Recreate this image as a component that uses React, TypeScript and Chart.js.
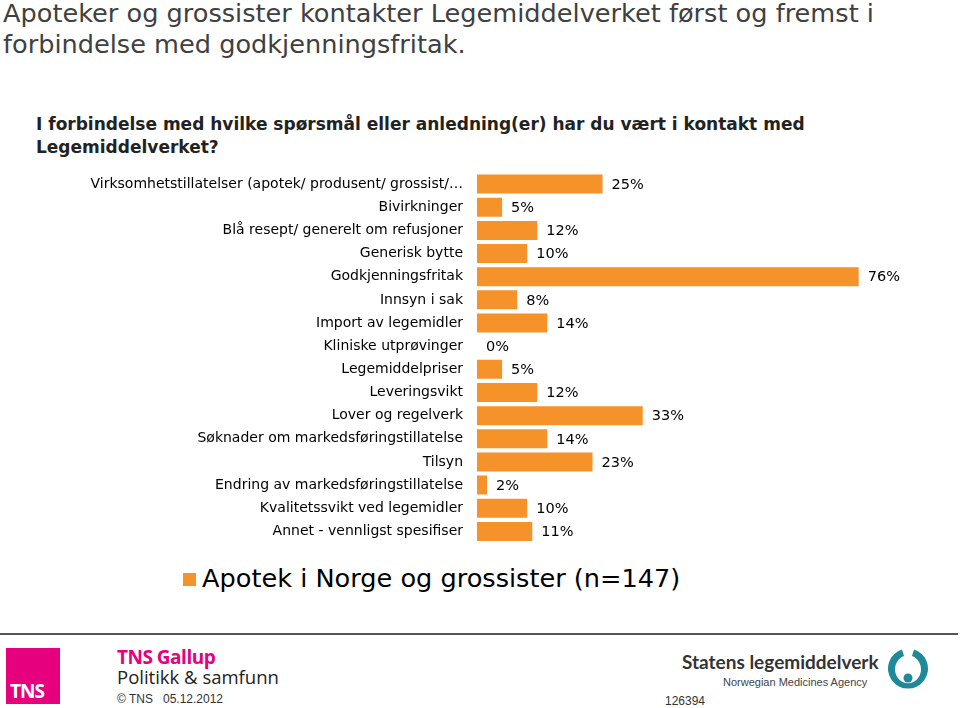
import React, { useEffect, useRef } from "react";
import { Chart, registerables } from "chart.js";

Chart.register(...registerables);

const categories = [
  "Virksomhetstillatelser (apotek/ produsent/ grossist/…",
  "Bivirkninger",
  "Blå resept/ generelt om refusjoner",
  "Generisk bytte",
  "Godkjenningsfritak",
  "Innsyn i sak",
  "Import av legemidler",
  "Kliniske utprøvinger",
  "Legemiddelpriser",
  "Leveringsvikt",
  "Lover og regelverk",
  "Søknader om markedsføringstillatelse",
  "Tilsyn",
  "Endring av markedsføringstillatelse",
  "Kvalitetssvikt ved legemidler",
  "Annet - vennligst spesifiser",
];
const seriesLabel = "Apotek i Norge og grossister (n=147)";
const values = [25, 5, 12, 10, 76, 8, 14, 0, 5, 12, 33, 14, 23, 2, 10, 11];

const ORANGE = "#F5922A";

const valueLabelPlugin = {
  id: "valueLabels",
  afterDatasetsDraw(chart: any) {
    const ctx = chart.ctx;
    const meta = chart.getDatasetMeta(0);
    ctx.save();
    ctx.font = "14.5px 'DejaVu Sans'";
    ctx.fillStyle = "#000";
    ctx.textBaseline = "middle";
    ctx.textAlign = "left";
    meta.data.forEach((bar: any, i: number) => {
      const v = chart.data.datasets[0].data[i];
      ctx.fillText(v + "%", bar.x + 9, bar.y + 1);
    });
    ctx.restore();
  },
};

function BarChart() {
  const ref = useRef<HTMLCanvasElement | null>(null);
  useEffect(() => {
    if (!ref.current) return;
    const chart = new Chart(ref.current, {
      type: "bar",
      data: {
        labels: categories,
        datasets: [
          {
            label: seriesLabel,
            data: values,
            backgroundColor: ORANGE,
            borderWidth: 0,
            barPercentage: 0.82,
            categoryPercentage: 1,
          },
        ],
      },
      options: {
        indexAxis: "y",
        animation: false,
        responsive: false,
        maintainAspectRatio: false,
        layout: { padding: { top: 7.5, bottom: 7, right: 31, left: 0 } },
        plugins: {
          legend: { display: false },
          tooltip: { enabled: false },
        },
        scales: {
          x: {
            display: false,
            min: 0,
            max: 90,
          },
          y: {
            grid: { display: false, drawTicks: false },
            border: { display: false },
            ticks: {
              font: { family: "'DejaVu Sans'", size: 14 },
              color: "#000",
              padding: 14,
              autoSkip: false,
            },
            afterFit: (s: any) => {
              s.width = 477;
              s.paddingTop = 0;
              s.paddingBottom = 0;
            },
          },
        },
      },
      plugins: [valueLabelPlugin],
    });
    return () => chart.destroy();
  }, []);
  return (
    <canvas
      ref={ref}
      width={960}
      height={385}
      style={{ position: "absolute", left: 0, top: 165, width: 960, height: 385 }}
    />
  );
}

export default function App() {
  return (
    <div
      style={{
        position: "absolute",
        left: 0,
        top: 0,
        width: 960,
        height: 708,
        background: "#fff",
        overflow: "hidden",
        fontFamily: "'DejaVu Sans', sans-serif",
      }}
    >
      <div
        style={{
          position: "absolute",
          left: 3,
          top: -2,
          fontSize: 25.6,
          lineHeight: "31px",
          color: "#404040",
          whiteSpace: "nowrap",
        }}
      >
        Apoteker og grossister kontakter Legemiddelverket først og fremst i
        <br />
        forbindelse med godkjenningsfritak.
      </div>
      <div
        style={{
          position: "absolute",
          left: 36,
          top: 113,
          fontSize: 17,
          fontWeight: "bold",
          lineHeight: "23px",
          color: "#222",
          whiteSpace: "nowrap",
        }}
      >
        I forbindelse med hvilke spørsmål eller anledning(er) har du vært i kontakt med
        <br />
        Legemiddelverket?
      </div>
      <BarChart />
      <div
        style={{
          position: "absolute",
          left: 183,
          top: 573,
          width: 13,
          height: 13,
          background: ORANGE,
        }}
      />
      <div
        style={{
          position: "absolute",
          left: 202,
          top: 562,
          fontSize: 25.6,
          lineHeight: "32px",
          color: "#000",
          whiteSpace: "nowrap",
        }}
      >
        {seriesLabel}
      </div>
      <div
        style={{
          position: "absolute",
          left: 0,
          top: 633,
          width: 958,
          height: 2,
          background: "#555",
        }}
      />
      <div
        style={{
          position: "absolute",
          left: 6,
          top: 648,
          width: 54,
          height: 56,
          background: "#E6007E",
        }}
      >
        <div
          style={{
            position: "absolute",
            left: 4,
            bottom: 0,
            color: "#fff",
            fontSize: 19,
            fontWeight: "bold",
            fontFamily: "'Open Sans', sans-serif",
            letterSpacing: -1,
          }}
        >
          TNS
        </div>
      </div>
      <div
        style={{
          position: "absolute",
          left: 117,
          top: 644,
          fontSize: 19,
          fontWeight: "bold",
          color: "#E6007E",
          whiteSpace: "nowrap",
          fontFamily: "'Open Sans', sans-serif",
          letterSpacing: -0.5,
        }}
      >
        TNS Gallup
      </div>
      <div
        style={{
          position: "absolute",
          left: 117,
          top: 664,
          fontSize: 18.5,
          color: "#222",
          whiteSpace: "nowrap",
          fontFamily: "'Open Sans', sans-serif",
        }}
      >
        Politikk &amp; samfunn
      </div>
      <div
        style={{
          position: "absolute",
          left: 117,
          top: 692,
          fontSize: 12,
          color: "#333",
          whiteSpace: "nowrap",
          fontFamily: "'Liberation Sans', Arial, sans-serif",
        }}
      >
        © TNS&nbsp;&nbsp; 05.12.2012
      </div>
      <div
        style={{
          position: "absolute",
          left: 665,
          top: 694,
          fontSize: 12,
          color: "#333",
          whiteSpace: "nowrap",
          fontFamily: "'Liberation Sans', Arial, sans-serif",
        }}
      >
        126394
      </div>
      <div
        style={{
          position: "absolute",
          left: 682,
          top: 650,
          fontSize: 19,
          fontWeight: "bold",
          color: "#333",
          whiteSpace: "nowrap",
          fontFamily: "Lato, sans-serif",
        }}
      >
        Statens legemiddelverk
      </div>
      <div
        style={{
          position: "absolute",
          left: 723,
          top: 676,
          fontSize: 11,
          color: "#444",
          whiteSpace: "nowrap",
          fontFamily: "'Liberation Sans', Arial, sans-serif",
        }}
      >
        Norwegian Medicines Agency
      </div>
      <svg
        style={{ position: "absolute", left: 886, top: 647 }}
        width={44}
        height={44}
        viewBox="0 0 44 44"
      >
        <path
          d="M16 2.5 A20 20 0 1 0 28 2.5 L26 9 A13 14 0 1 1 18 9 Z"
          fill="#1E8A99"
        />
        <circle cx={22} cy={31} r={4.5} fill="#1E8A99" />
      </svg>
    </div>
  );
}
